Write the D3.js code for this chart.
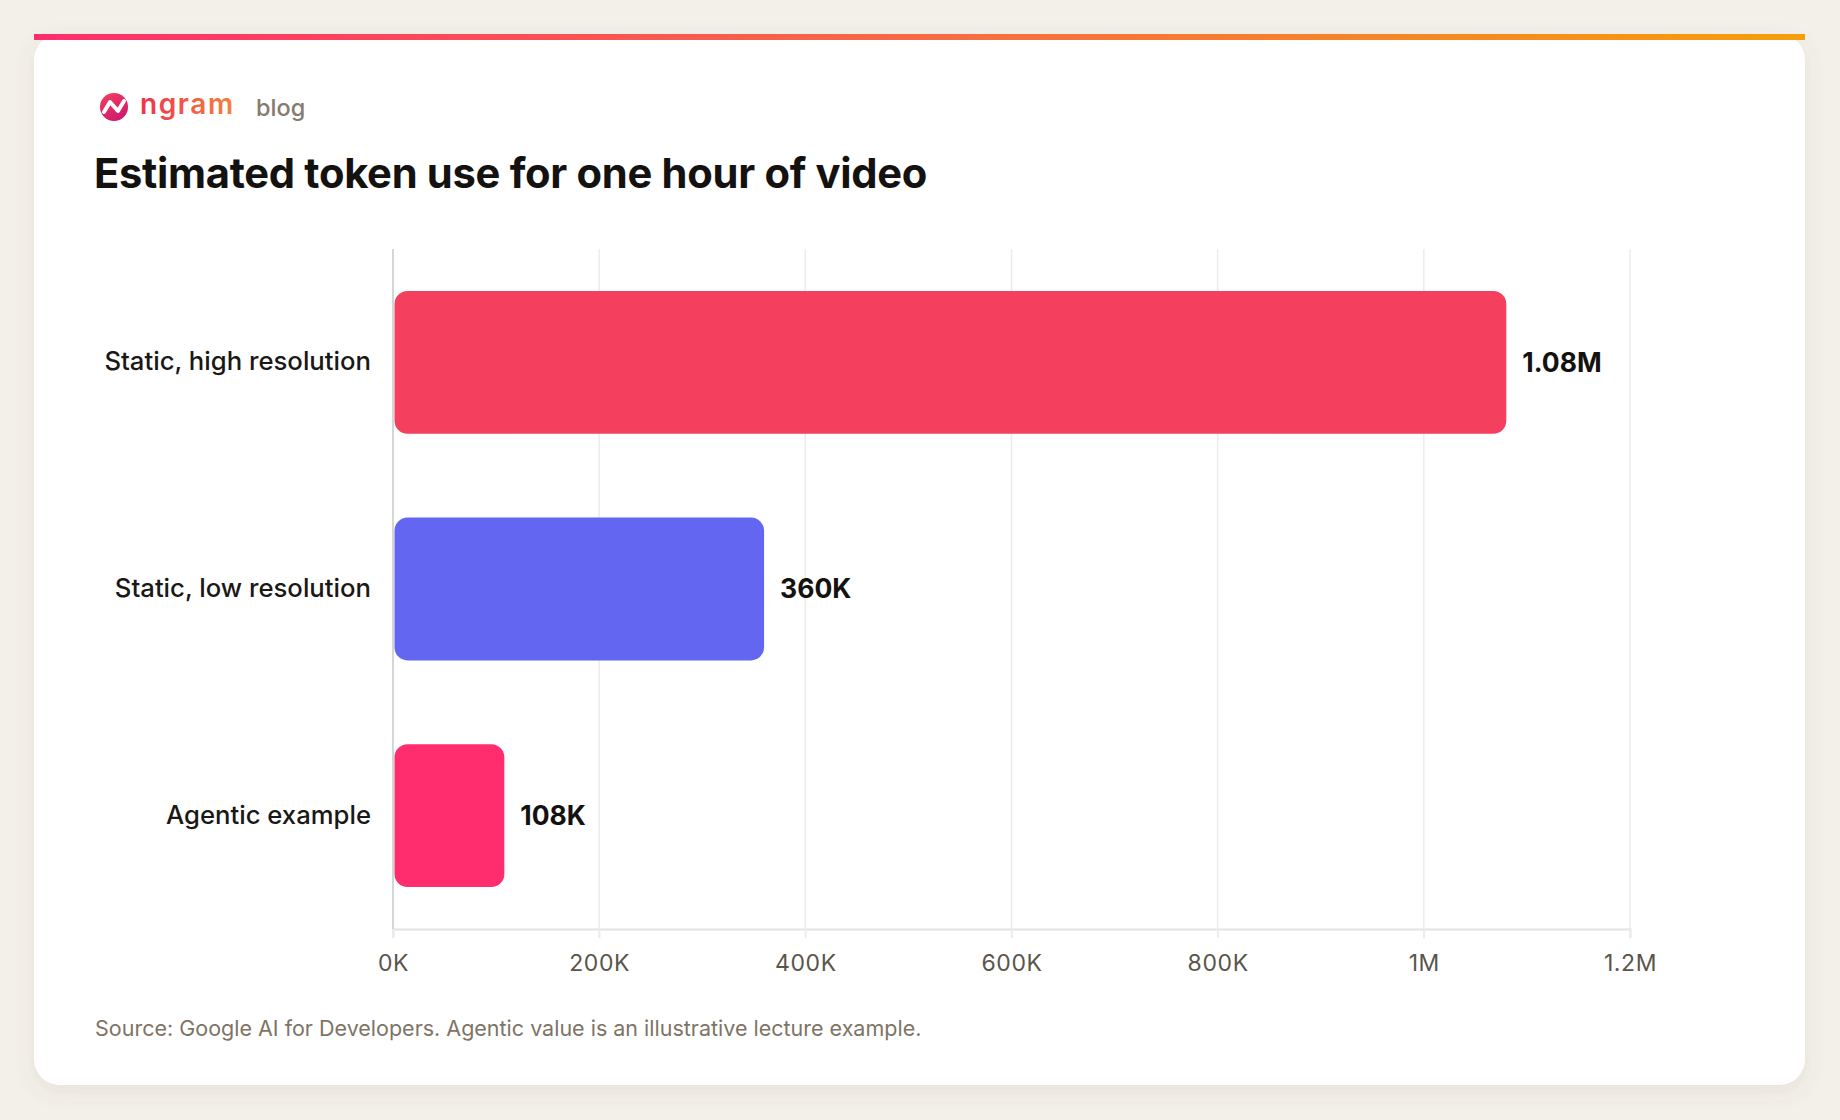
<!DOCTYPE html>
<html>
<head>
<meta charset="utf-8">
<script src="https://cdn.jsdelivr.net/npm/d3@7"></script>
<style>
  html, body { margin: 0; padding: 0; background: #f3f0ea; }
  svg { display: block; }
  text { font-family: Inter, "Noto Sans", sans-serif; }
</style>
</head>
<body>
<svg id="chart" width="1840" height="1120"></svg>
<script>
const categories = ["Static, high resolution", "Static, low resolution", "Agentic example"];
const values = [1080000, 360000, 108000];
const valueLabels = ["1.08M", "360K", "108K"];
const barColors = ["#f43f5e", "#6366f1", "#ff2d6e"];
const tickValues = [0, 200000, 400000, 600000, 800000, 1000000, 1200000];
const tickLabels = ["0K", "200K", "400K", "600K", "800K", "1M", "1.2M"];
const title = "Estimated token use for one hour of video";
const source = "Source: Google AI for Developers. Agentic value is an illustrative lecture example.";

const svg = d3.select("#chart");
const defs = svg.append("defs");

const f = defs.append("filter").attr("id", "shadow").attr("x", "-10%").attr("y", "-10%").attr("width", "120%").attr("height", "130%");
f.append("feDropShadow").attr("dx", 0).attr("dy", 6).attr("stdDeviation", 10).attr("flood-color", "#6b5a3a").attr("flood-opacity", 0.10);

const topGrad = defs.append("linearGradient").attr("id", "topGrad").attr("x1", "0%").attr("x2", "100%");
topGrad.append("stop").attr("offset", "0%").attr("stop-color", "#ff2d6b");
topGrad.append("stop").attr("offset", "50%").attr("stop-color", "#f76a45");
topGrad.append("stop").attr("offset", "100%").attr("stop-color", "#f59e0b");

const logoGrad = defs.append("linearGradient").attr("id", "logoGrad").attr("x1", "0%").attr("x2", "100%");
logoGrad.append("stop").attr("offset", "0%").attr("stop-color", "#f0314f");
logoGrad.append("stop").attr("offset", "100%").attr("stop-color", "#f7823a");

const iconGrad = defs.append("linearGradient").attr("id", "iconGrad").attr("x1", "0%").attr("y1", "0%").attr("x2", "60%").attr("y2", "100%");
iconGrad.append("stop").attr("offset", "0%").attr("stop-color", "#f43f5e");
iconGrad.append("stop").attr("offset", "100%").attr("stop-color", "#d11a6e");

const card = { x: 34, y: 34, w: 1771, h: 1051 };
svg.append("rect").attr("x", card.x).attr("y", card.y).attr("width", card.w).attr("height", card.h)
  .attr("rx", 26).attr("fill", "#ffffff").attr("filter", "url(#shadow)");
svg.append("rect").attr("x", card.x).attr("y", card.y).attr("width", card.w).attr("height", 6).attr("fill", "url(#topGrad)");

// logo
const logo = svg.append("g").attr("transform", "translate(114,107)");
logo.append("circle").attr("r", 14).attr("fill", "url(#iconGrad)");
logo.append("path").attr("d", "M-10,5 L-4,-5 L4,4 L10,-6")
  .attr("fill", "none").attr("stroke", "#fff").attr("stroke-width", 4).attr("stroke-linejoin", "round").attr("stroke-linecap", "round");
svg.append("text").attr("x", 140).attr("y", 114).attr("font-size", 28).attr("font-weight", 600)
  .attr("fill", "url(#logoGrad)").attr("letter-spacing", 1.6).text("ngram");
svg.append("text").attr("x", 256).attr("y", 116).attr("font-size", 23.5).attr("font-weight", 500)
  .attr("fill", "#857b6e").text("blog");

// title
svg.append("text").attr("x", 94).attr("y", 188).attr("font-size", 41.7).attr("font-weight", 700)
  .attr("fill", "#141210").attr("letter-spacing", -0.3).text(title);

const x = d3.scaleLinear().domain([0, 1200000]).range([393, 1630]);
const y = d3.scaleBand().domain(categories).range([249, 929]).paddingInner(0.37).paddingOuter(0.185);

svg.append("g").selectAll("line").data(tickValues).join("line")
  .attr("x1", d => x(d)).attr("x2", d => x(d)).attr("y1", 249).attr("y2", 938)
  .attr("stroke", "#ececec").attr("stroke-width", 1.5);

const xAxis = d3.axisBottom(x).tickValues(tickValues).tickFormat((d, i) => tickLabels[i]).tickSize(9).tickPadding(17);
const gx = svg.append("g").attr("transform", "translate(0,929)").call(xAxis);
gx.select(".domain").attr("stroke", "#e3e3e3").attr("stroke-width", 2);
gx.selectAll(".tick line").attr("stroke", "#ececec").attr("stroke-width", 1.5);
gx.selectAll(".tick text").attr("font-size", 23).attr("letter-spacing", 0.6).attr("fill", "#5a554c").attr("font-family", "Inter, sans-serif");

svg.append("line").attr("x1", x(0)).attr("x2", x(0)).attr("y1", 249).attr("y2", 929)
  .attr("stroke", "#d6d6d6").attr("stroke-width", 2);

const data = categories.map((c, i) => ({ c, v: values[i], label: valueLabels[i], color: barColors[i] }));
svg.append("g").selectAll("rect").data(data).join("rect")
  .attr("x", x(0) + 1.5).attr("y", d => y(d.c))
  .attr("width", d => x(d.v) - x(0) - 1.5).attr("height", y.bandwidth())
  .attr("rx", 13).attr("fill", d => d.color);

svg.append("g").selectAll("text").data(data).join("text")
  .attr("x", d => x(d.v) + 16).attr("y", d => y(d.c) + y.bandwidth() / 2)
  .attr("dy", "0.35em").attr("font-size", 26.5).attr("font-weight", 700).attr("fill", "#141210")
  .text(d => d.label);

svg.append("g").selectAll("text").data(data).join("text")
  .attr("x", 371).attr("y", d => y(d.c) + y.bandwidth() / 2 - 1)
  .attr("dy", "0.35em").attr("text-anchor", "end").attr("font-size", 25.7).attr("font-weight", 500).attr("fill", "#1a1815")
  .text(d => d.c);

svg.append("text").attr("x", 95).attr("y", 1036).attr("font-size", 21.5).attr("fill", "#7d7466").text(source);
</script>
</body>
</html>
